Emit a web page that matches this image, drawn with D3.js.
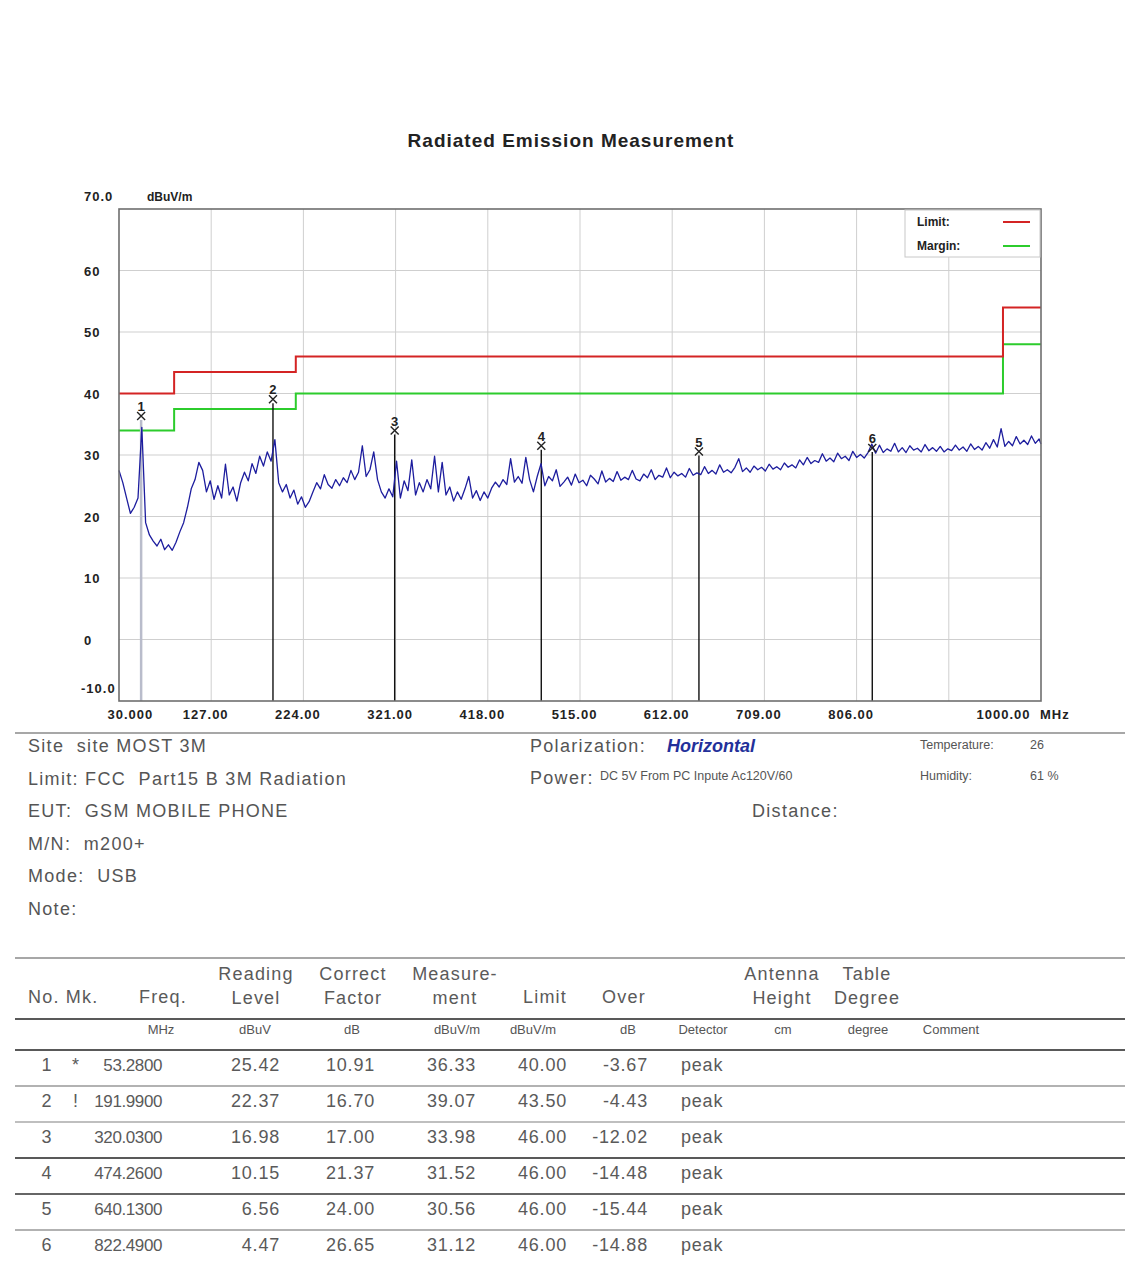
<!DOCTYPE html>
<html>
<head>
<meta charset="utf-8">
<script src="https://cdn.jsdelivr.net/npm/d3@7"></script>
<style>
  body { margin: 0; background: #fff; }
  svg { display: block; font-family: "Liberation Sans", Arial, sans-serif; }
  .tick-lbl { font-size: 13px; font-weight: bold; fill: #222; letter-spacing: 1px; }
  .info { font-size: 18px; fill: #555; letter-spacing: 1.3px; }
  .small { font-size: 12.5px; fill: #555; }
  .tbl { font-size: 18px; fill: #5a5a5a; letter-spacing: 0.8px; }
  .unit { font-size: 13px; fill: #555; }
</style>
</head>
<body>
<div id="chart"></div>
<script>
// axis ticks
var yTicks = [-10, 0, 10, 20, 30, 40, 50, 60, 70];
var yTickLabels = ["-10.0", "0", "10", "20", "30", "40", "50", "60", "70.0"];
var xTicks = [30, 127, 224, 321, 418, 515, 612, 709, 806, 903, 1000];
var xTickLabels = ["30.000", "127.00", "224.00", "321.00", "418.00", "515.00", "612.00", "709.00", "806.00", "", "1000.00"];

// FCC Part15 B limit and margin steps
var limitEdges = [30, 88, 216, 960, 1000];
var limitLevels = [40, 43.5, 46, 54];
var marginLevels = [34, 37.5, 40, 48];

// measured markers
var markerNo = [1, 2, 3, 4, 5, 6];
var markerMk = ["*", "!", "", "", "", ""];
var markerFreq = ["53.2800", "191.9900", "320.0300", "474.2600", "640.1300", "822.4900"];
var readingLevel = ["25.42", "22.37", "16.98", "10.15", "6.56", "4.47"];
var correctFactor = ["10.91", "16.70", "17.00", "21.37", "24.00", "26.65"];
var measurement = ["36.33", "39.07", "33.98", "31.52", "30.56", "31.12"];
var limitVal = ["40.00", "43.50", "46.00", "46.00", "46.00", "46.00"];
var overVal = ["-3.67", "-4.43", "-12.02", "-14.48", "-15.44", "-14.88"];
var detector = ["peak", "peak", "peak", "peak", "peak", "peak"];

// sweep trace (dBuV/m), 4 MHz steps from 30 MHz
var sweepStart = 30, sweepStep = 4;
var traceLevel = [
  27.5, 25.5, 23.0, 20.5, 21.5, 23.0, 34.5, 19.0, 17.0, 16.0,
  15.2, 16.3, 14.6, 15.4, 14.5, 15.8, 17.5, 19.0, 21.5, 24.5,
  26.0, 28.8, 27.5, 24.0, 25.8, 22.8, 25.0, 23.0, 28.5, 23.5,
  24.8, 22.5, 25.5, 27.2, 25.8, 28.6, 27.0, 29.8, 28.2, 30.5,
  29.0, 32.5, 25.5, 24.0, 25.2, 23.0, 24.3, 22.0, 23.2, 21.5,
  22.4, 24.0, 25.5, 24.5, 26.8, 25.2, 24.6, 26.0, 25.0, 26.3,
  25.5, 27.5, 26.0, 27.2, 31.5, 26.5, 27.6, 30.5, 26.0, 24.0,
  23.0, 24.5, 23.2, 29.0, 23.0, 25.8, 24.2, 29.2, 23.5, 25.5,
  24.0, 26.0, 24.5, 29.8, 24.0, 28.8, 23.5, 24.8, 22.5, 24.0,
  22.8, 24.5, 26.5, 23.0, 24.2, 22.6, 24.0, 23.0, 24.6, 25.6,
  24.8, 26.0, 25.2, 29.4, 25.6, 26.5, 25.4, 29.6, 26.0, 24.0,
  26.5, 28.6, 25.0, 26.5, 25.8, 27.6, 24.9, 25.6, 26.4, 25.1,
  26.9, 25.5, 25.9, 25.0, 26.7, 26.1, 25.3, 27.4, 25.6, 26.2,
  25.7, 27.3, 25.9, 26.4, 26.0, 27.5, 26.1, 25.8, 26.9, 26.3,
  27.6, 26.0, 26.7, 26.4, 27.9, 26.3, 27.2, 26.6, 27.0, 26.4,
  27.8, 26.7, 27.1, 26.8, 28.1, 27.0, 27.5, 26.9, 28.4, 27.2,
  27.6, 27.1, 28.0, 29.4, 27.3, 27.9, 27.2, 28.2, 27.6, 28.0,
  27.4, 28.5, 27.7, 28.1, 27.6, 28.7, 28.0, 28.4, 27.9, 29.2,
  28.4, 29.6, 28.6, 29.1, 28.8, 30.2, 29.0, 29.5, 28.9, 30.3,
  29.4, 29.8, 29.1, 30.6, 29.6, 30.1, 29.5, 30.4, 31.8, 30.3,
  31.6, 30.4, 31.0, 30.6, 31.9, 30.5, 31.2, 30.4, 31.5, 30.8,
  31.1, 30.5, 31.7, 30.7, 31.2, 30.6, 31.4, 30.5, 31.0, 30.7,
  31.6, 30.8, 31.3, 30.6, 31.8, 30.9, 31.4, 30.8, 32.0, 31.1,
  32.5, 31.3, 34.3, 31.4, 32.2, 31.5, 33.0, 31.8, 32.4, 31.7,
  33.1, 31.9, 32.6, 31.8
];

var W = 1129, H = 1264;
var svg = d3.select("#chart").append("svg")
    .attr("width", W)
    .attr("height", H);

// Scales
var x = d3.scaleLinear().domain([30, 1000]).range([119, 1041]);
var y = d3.scaleLinear().domain([-10, 70]).range([701, 209]);

// Title
svg.append("text")
    .attr("x", 571).attr("y", 147)
    .attr("text-anchor", "middle")
    .style("font-size", "19px").style("font-weight", "bold").style("fill", "#222")
    .style("letter-spacing", "1px")
    .text("Radiated Emission Measurement");

// grid
svg.append("g").selectAll("line").data(yTicks.slice(1, -1)).join("line")
    .attr("x1", x(30)).attr("x2", x(1000))
    .attr("y1", d => y(d)).attr("y2", d => y(d))
    .attr("stroke", "#cfcfcf").attr("stroke-width", 1);
svg.append("g").selectAll("line").data(xTicks.slice(1, -1)).join("line")
    .attr("y1", y(-10)).attr("y2", y(70))
    .attr("x1", d => x(d)).attr("x2", d => x(d))
    .attr("stroke", "#cfcfcf").attr("stroke-width", 1);

// Axes (labels only, the frame is drawn as a rect)
var yAxis = svg.append("g")
    .attr("transform", "translate(" + x(30) + ",0)")
    .call(d3.axisLeft(y).tickValues(yTicks).tickSize(0)
        .tickFormat((d, i) => yTickLabels[i]));
yAxis.select(".domain").remove();
yAxis.selectAll("text")
    .attr("class", "tick-lbl")
    .attr("text-anchor", "start")
    .attr("x", (d, i) => i == 0 ? -38 : -35)
    .attr("dy", d => (d == 70 || d == -10) ? "-0.65em" : "0.35em");

var xAxis = svg.append("g")
    .attr("transform", "translate(0," + y(-10) + ")")
    .call(d3.axisBottom(x).tickValues(xTicks).tickSize(0)
        .tickFormat((d, i) => xTickLabels[i]));
xAxis.select(".domain").remove();
xAxis.selectAll("text")
    .attr("class", "tick-lbl")
    .attr("y", 9)
    .attr("dy", "0.71em")
    .attr("text-anchor", (d, i) => i == 0 ? "start" : (i == xTicks.length - 1 ? "end" : "middle"))
    .attr("x", (d, i) => i == 0 ? -12 : (i == xTicks.length - 1 ? -11 : -6));

svg.append("text").attr("class", "tick-lbl")
    .attr("x", 1040).attr("y", 719).text("MHz");
svg.append("text").attr("class", "tick-lbl")
    .style("font-size", "12px").style("letter-spacing", "0px")
    .attr("x", 147).attr("y", 201).text("dBuV/m");

// limit / margin step lines
function stepLine(levels) {
    var pts = [];
    levels.forEach(function(v, i) {
        pts.push([limitEdges[i], v]);
        pts.push([limitEdges[i + 1], v]);
    });
    return d3.line().x(d => x(d[0])).y(d => y(d[1]))(pts);
}
svg.append("path").attr("d", stepLine(marginLevels))
    .attr("fill", "none").attr("stroke", "#2ccc2c").attr("stroke-width", 2);
svg.append("path").attr("d", stepLine(limitLevels))
    .attr("fill", "none").attr("stroke", "#d42424").attr("stroke-width", 2);

// marker lines
svg.append("g").selectAll("line").data(markerNo).join("line")
    .attr("x1", (d, i) => x(+markerFreq[i])).attr("x2", (d, i) => x(+markerFreq[i]))
    .attr("y1", y(-10)).attr("y2", (d, i) => y(+measurement[i]) + 4)
    .attr("stroke", (d, i) => i == 0 ? "#b9bccb" : "#111")
    .attr("stroke-width", (d, i) => i == 0 ? 2.5 : 1.4);

// trace
var trace = traceLevel.map((v, i) => [Math.min(sweepStart + i * sweepStep, 1000), v]);
svg.append("path")
    .datum(trace)
    .attr("fill", "none")
    .attr("stroke", "#1d1d9e")
    .attr("stroke-width", 1.3)
    .attr("stroke-linejoin", "round")
    .attr("d", d3.line().x(d => x(d[0])).y(d => y(d[1])));

// marker crosses and numbers
var mk = svg.append("g").selectAll("g").data(markerNo).join("g")
    .attr("transform", (d, i) => "translate(" + x(+markerFreq[i]) + "," + y(+measurement[i]) + ")");
mk.append("path").attr("d", "M-4,-4L4,4M-4,4L4,-4")
    .attr("stroke", "#222").attr("stroke-width", 1.4);
mk.append("text").attr("class", "tick-lbl")
    .style("letter-spacing", "0px")
    .attr("text-anchor", "middle").attr("y", -5)
    .text(d => d);

// frame
svg.append("rect")
    .attr("x", x(30)).attr("y", y(70))
    .attr("width", x(1000) - x(30)).attr("height", y(-10) - y(70))
    .attr("fill", "none").attr("stroke", "#6e6e6e").attr("stroke-width", 1.6);

// legend
var lg = svg.append("g");
lg.append("rect").attr("x", 905).attr("y", 210).attr("width", 135).attr("height", 47)
    .attr("fill", "#fff").attr("stroke", "#c8c8c8");
lg.append("text").attr("class", "tick-lbl").style("font-size", "12px").style("letter-spacing", "0px")
    .attr("x", 917).attr("y", 226).text("Limit:");
lg.append("text").attr("class", "tick-lbl").style("font-size", "12px").style("letter-spacing", "0px")
    .attr("x", 917).attr("y", 250).text("Margin:");
lg.append("line").attr("x1", 1003).attr("x2", 1030).attr("y1", 222).attr("y2", 222)
    .attr("stroke", "#d42424").attr("stroke-width", 2);
lg.append("line").attr("x1", 1003).attr("x2", 1030).attr("y1", 246).attr("y2", 246)
    .attr("stroke", "#2ccc2c").attr("stroke-width", 2);

// info block
svg.append("line").attr("x1", 15).attr("x2", 1125).attr("y1", 733).attr("y2", 733)
    .attr("stroke", "#8a8a8a").attr("stroke-width", 1.5);
var infoLeft = ["Site  site MOST 3M", "Limit: FCC  Part15 B 3M Radiation", "EUT:  GSM MOBILE PHONE",
    "M/N:  m200+", "Mode:  USB", "Note:"];
svg.append("g").selectAll("text").data(infoLeft).join("text")
    .attr("class", "info")
    .attr("xml:space", "preserve")
    .attr("x", 28).attr("y", (d, i) => 752 + i * 32.6)
    .text(d => d);

svg.append("text").attr("class", "info").attr("x", 530).attr("y", 752).text("Polarization:");
svg.append("text").attr("x", 667).attr("y", 752)
    .style("font-size", "18px").style("font-weight", "bold").style("font-style", "italic")
    .style("fill", "#23309a").text("Horizontal");
svg.append("text").attr("class", "info").attr("x", 530).attr("y", 784).text("Power:");
svg.append("text").attr("class", "small").attr("x", 600).attr("y", 780).text("DC 5V From PC Inpute Ac120V/60");
svg.append("text").attr("class", "info").attr("x", 752).attr("y", 817).text("Distance:");
svg.append("text").attr("class", "small").attr("x", 920).attr("y", 749).text("Temperature:");
svg.append("text").attr("class", "small").attr("x", 1030).attr("y", 749).text("26");
svg.append("text").attr("class", "small").attr("x", 920).attr("y", 780).text("Humidity:");
svg.append("text").attr("class", "small").attr("x", 1030).attr("y", 780).text("61 %");

// table
var hl = [[958, "#8a8a8a"], [1019, "#222"], [1050, "#222"], [1086, "#999"], [1122, "#aaa"],
    [1158, "#222"], [1194, "#333"], [1230, "#999"]];
svg.append("g").selectAll("line").data(hl).join("line")
    .attr("x1", 15).attr("x2", 1125).attr("y1", d => d[0]).attr("y2", d => d[0])
    .attr("stroke", d => d[1]).attr("stroke-width", 1.5);

var heads = [["No. Mk.", "", 28, "start"], ["Freq.", "", 163, "middle"], ["Reading", "Level", 256, "middle"],
    ["Correct", "Factor", 353, "middle"], ["Measure-", "ment", 455, "middle"], ["Limit", "", 545, "middle"],
    ["Over", "", 624, "middle"], ["Antenna", "Height", 782, "middle"], ["Table", "Degree", 867, "middle"]];
heads.forEach(function(h) {
    if (h[1]) {
        svg.append("text").attr("class", "tbl").style("letter-spacing", "1.2px")
            .attr("x", h[2]).attr("y", 980).attr("text-anchor", h[3]).text(h[0]);
        svg.append("text").attr("class", "tbl").style("letter-spacing", "1.2px")
            .attr("x", h[2]).attr("y", 1004).attr("text-anchor", h[3]).text(h[1]);
    } else {
        svg.append("text").attr("class", "tbl").style("letter-spacing", "1.2px")
            .attr("x", h[2]).attr("y", 1003).attr("text-anchor", h[3]).text(h[0]);
    }
});
var units = [["MHz", 161], ["dBuV", 255], ["dB", 352], ["dBuV/m", 457], ["dBuV/m", 533], ["dB", 628],
    ["Detector", 703], ["cm", 783], ["degree", 868], ["Comment", 951]];
svg.append("g").selectAll("text").data(units).join("text")
    .attr("class", "unit").attr("x", d => d[1]).attr("y", 1034).attr("text-anchor", "middle")
    .text(d => d[0]);

var cols = [[markerNo, 47, "middle", 18, 0.8], [markerMk, 76, "middle", 18, 0.8], [markerFreq, 162, "end", 17, -0.4],
    [readingLevel, 280, "end", 18, 0.8], [correctFactor, 375, "end", 18, 0.8], [measurement, 476, "end", 18, 0.8],
    [limitVal, 567, "end", 18, 0.8], [overVal, 648, "end", 18, 0.8], [detector, 681, "start", 18, 0.8]];
cols.forEach(function(c) {
    svg.append("g").selectAll("text").data(c[0]).join("text")
        .attr("class", "tbl")
        .style("font-size", c[3] + "px")
        .style("letter-spacing", c[4] + "px")
        .attr("x", c[1]).attr("y", (d, i) => 1071 + i * 35.9)
        .attr("text-anchor", c[2])
        .text(d => d);
});
</script>
</body>
</html>
